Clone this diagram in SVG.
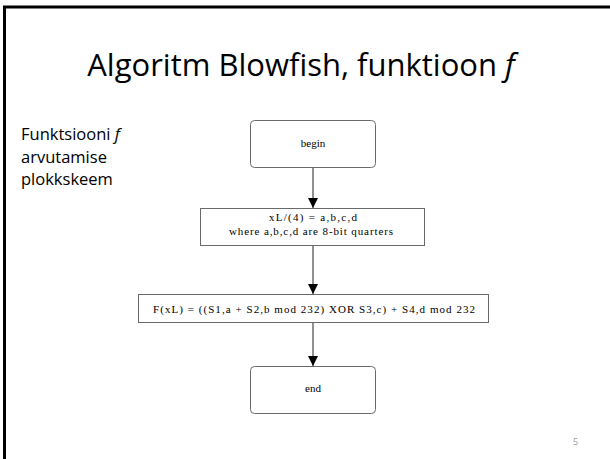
<svg xmlns="http://www.w3.org/2000/svg" width="610" height="459" viewBox="0 0 610 459">
<style>
.box{fill:#fff;stroke:#6a6a6a;stroke-width:1}
.ft{font-family:"Liberation Serif",serif;font-size:11px;fill:#000;text-anchor:middle}
.conn{stroke:#555;stroke-width:1.3;fill:none}
.side{font-family:"Open Sans","Liberation Sans",sans-serif;font-size:16.5px;fill:#000}
</style>
<defs>
<marker id="ah" viewBox="0 0 10 10" refX="10" refY="5" markerWidth="10" markerHeight="10" markerUnits="userSpaceOnUse" orient="auto">
<path d="M0,0 L10,5 L0,10 Z" fill="#000"/>
</marker>
</defs>
<rect width="610" height="459" fill="#fff"/>
<path d="M4.5,459 V7 H610" fill="none" stroke="#000" stroke-width="3"/>
<text x="301" y="76" text-anchor="middle" font-family="'Open Sans','Liberation Sans',sans-serif" font-size="31" fill="#000">Algoritm Blowfish, funktioon <tspan font-style="italic">f</tspan></text>
<g id="caption">
<text class="side" x="21" y="140">Funktsiooni <tspan font-style="italic">f</tspan></text>
<text class="side" x="21" y="162.5">arvutamise</text>
<text class="side" x="21" y="185">plokkskeem</text>
</g>
<g id="begin">
<rect class="box" x="250.5" y="120.5" width="125" height="47" rx="4"/>
<text class="ft" x="313" y="147">begin</text>
</g>
<g id="split">
<rect class="box" x="200.5" y="208.5" width="224" height="37"/>
<text class="ft" x="313" y="221" font-size="11.5" textLength="88" lengthAdjust="spacing">xL/(4) = a,b,c,d</text>
<text class="ft" x="311" y="235" font-size="11.5" textLength="164" lengthAdjust="spacing">where a,b,c,d are 8-bit quarters</text>
</g>
<g id="compute">
<rect class="box" x="138.5" y="294.5" width="350" height="28"/>
<text class="ft" x="314" y="313" font-size="11.5" textLength="322" lengthAdjust="spacing">F(xL) = ((S1,a + S2,b mod 232) XOR S3,c) + S4,d mod 232</text>
</g>
<g id="end">
<rect class="box" x="250.5" y="366.5" width="125" height="47" rx="4"/>
<text class="ft" x="313" y="392">end</text>
</g>
<g id="connectors">
<line class="conn" x1="313" y1="168" x2="313" y2="208" marker-end="url(#ah)"/>
<line class="conn" x1="313" y1="246" x2="313" y2="294" marker-end="url(#ah)"/>
<line class="conn" x1="313" y1="323" x2="313" y2="366" marker-end="url(#ah)"/>
</g>
<text x="573" y="445" font-family="'Open Sans','Liberation Sans',sans-serif" font-size="9" fill="#999">5</text>
</svg>
